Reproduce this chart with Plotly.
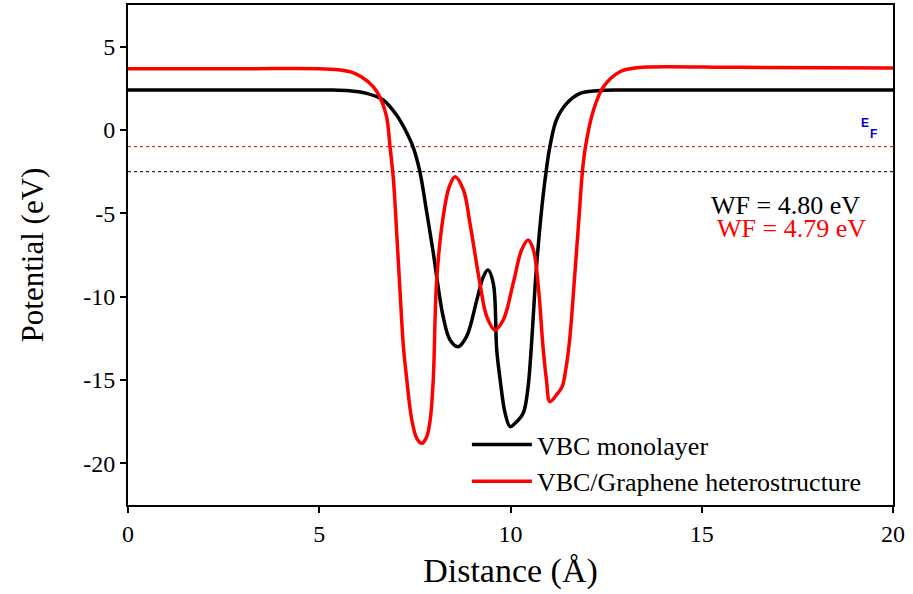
import plotly.graph_objects as go

# Black: VBC monolayer
mono_x = [0, 3.0, 5.0, 5.36, 5.8, 6.24, 6.67, 7.02, 7.25, 7.45, 7.63, 7.8, 7.97, 8.24, 8.42, 8.63, 8.85, 9.12, 9.29, 9.41, 9.55, 9.64, 9.73, 9.86, 9.99, 10.12, 10.33, 10.45, 10.53, 10.6, 10.66, 10.75, 10.85, 10.93, 11.03, 11.2, 11.47, 11.82, 12.25, 13.0, 16.0, 20.0]
mono_y = [2.4, 2.4, 2.4, 2.4, 2.35, 2.2, 1.8, 0.9, 0.0, -1.0, -2.5, -4.8, -7.2, -11.2, -12.6, -13.0, -12.4, -10.2, -8.8, -8.4, -9.2, -13.2, -15.0, -17.0, -17.8, -17.6, -17.0, -15.6, -13.5, -11.0, -8.8, -6.3, -4.0, -2.5, -1.0, 0.6, 1.6, 2.2, 2.36, 2.4, 2.4, 2.4]

# Red: VBC/Graphene heterostructure
het_x = [0, 3.0, 5.0, 5.5, 5.8, 6.1, 6.41, 6.6, 6.76, 6.85, 6.94, 7.03, 7.11, 7.2, 7.28, 7.42, 7.55, 7.68, 7.81, 7.9, 7.98, 8.07, 8.24, 8.4, 8.55, 8.77, 8.94, 9.2, 9.38, 9.59, 9.81, 10.07, 10.29, 10.46, 10.6, 10.72, 10.85, 10.94, 11.03, 11.2, 11.35, 11.45, 11.55, 11.67, 11.78, 11.88, 11.96, 12.17, 12.43, 12.86, 13.2, 13.56, 16.0, 20.0]
het_y = [3.68, 3.68, 3.68, 3.62, 3.5, 3.2, 2.6, 1.9, 0.8, -1.0, -3.0, -6.4, -9.6, -13.0, -14.8, -17.4, -18.5, -18.8, -18.4, -17.4, -15.0, -9.0, -5.2, -3.4, -2.8, -3.6, -5.6, -9.2, -11.2, -12.0, -11.4, -9.2, -7.2, -6.6, -7.2, -9.2, -13.0, -15.0, -16.3, -15.9, -15.4, -14.3, -12.5, -9.0, -5.6, -2.5, -1.0, 1.2, 2.6, 3.5, 3.7, 3.78, 3.76, 3.72]

# Fermi levels
ef_x = [0, 20]
ef_mono = [-2.5, -2.5]
ef_het = [-1.0, -1.0]

# Axis ticks
x_ticks = [0, 5, 10, 15, 20]
y_ticks = [-20, -15, -10, -5, 0, 5]
y_ticktext = ["-20", "-15", "-10", "-5", "0", "5"]

serif = "Liberation Serif"

fig = go.Figure()
fig.add_trace(go.Scatter(x=ef_x, y=ef_het, mode="lines", showlegend=False,
                         line=dict(color="#e00000", width=1, dash="dot"), hoverinfo="skip"))
fig.add_trace(go.Scatter(x=ef_x, y=ef_mono, mode="lines", showlegend=False,
                         line=dict(color="#000000", width=1, dash="dot"), hoverinfo="skip"))
fig.add_trace(go.Scatter(x=mono_x, y=mono_y, mode="lines", name="VBC monolayer",
                         line=dict(color="#000000", width=3.5, shape="spline", smoothing=1.0)))
fig.add_trace(go.Scatter(x=het_x, y=het_y, mode="lines", name="VBC/Graphene heterostructure",
                         line=dict(color="#ff0000", width=3.5, shape="spline", smoothing=1.0)))

fig.add_annotation(x=19.19, y=-4.5, text="WF = 4.80 eV", showarrow=False, xanchor="right",
                   font=dict(family=serif, size=26, color="#000000"))
fig.add_annotation(x=19.35, y=-5.9, text="WF = 4.79 eV", showarrow=False, xanchor="right",
                   font=dict(family=serif, size=26, color="#ff0000"))
fig.add_annotation(x=19.27, y=0.42, text="<b>E</b>", showarrow=False,
                   font=dict(family="Liberation Sans", size=12, color="#0000cc"))
fig.add_annotation(x=19.48, y=-0.24, text="<b>F</b>", showarrow=False,
                   font=dict(family="Liberation Sans", size=12, color="#0000cc"))

axis_common = dict(showgrid=False, zeroline=False, showline=True, linecolor="black", linewidth=2,
                   mirror=True, ticks="outside", ticklen=6, tickwidth=2, tickcolor="black",
                   tickfont=dict(family=serif, size=24, color="black"), automargin=False)

fig.update_layout(
    width=913, height=594,
    margin=dict(l=128, r=20, t=5, b=89),
    plot_bgcolor="white", paper_bgcolor="white",
    font=dict(family=serif, color="black"),
    legend=dict(x=0.443, y=0.168, xanchor="left", yanchor="top", bgcolor="rgba(0,0,0,0)",
                font=dict(family=serif, size=26, color="black"), itemwidth=60, tracegroupgap=0),
    xaxis=dict(range=[0, 20], tickvals=x_ticks,
               title=dict(text="Distance (Å)", font=dict(family=serif, size=34), standoff=12),
               **axis_common),
    yaxis=dict(range=[-22.5, 7.5], tickvals=y_ticks, ticktext=y_ticktext,
               title=dict(text="Potential (eV)", font=dict(family=serif, size=31), standoff=30),
               **axis_common),
)

fig.write_html("out.html", config={"displayModeBar": False},
               post_script="document.body.style.margin='0';document.body.style.padding='0';")
